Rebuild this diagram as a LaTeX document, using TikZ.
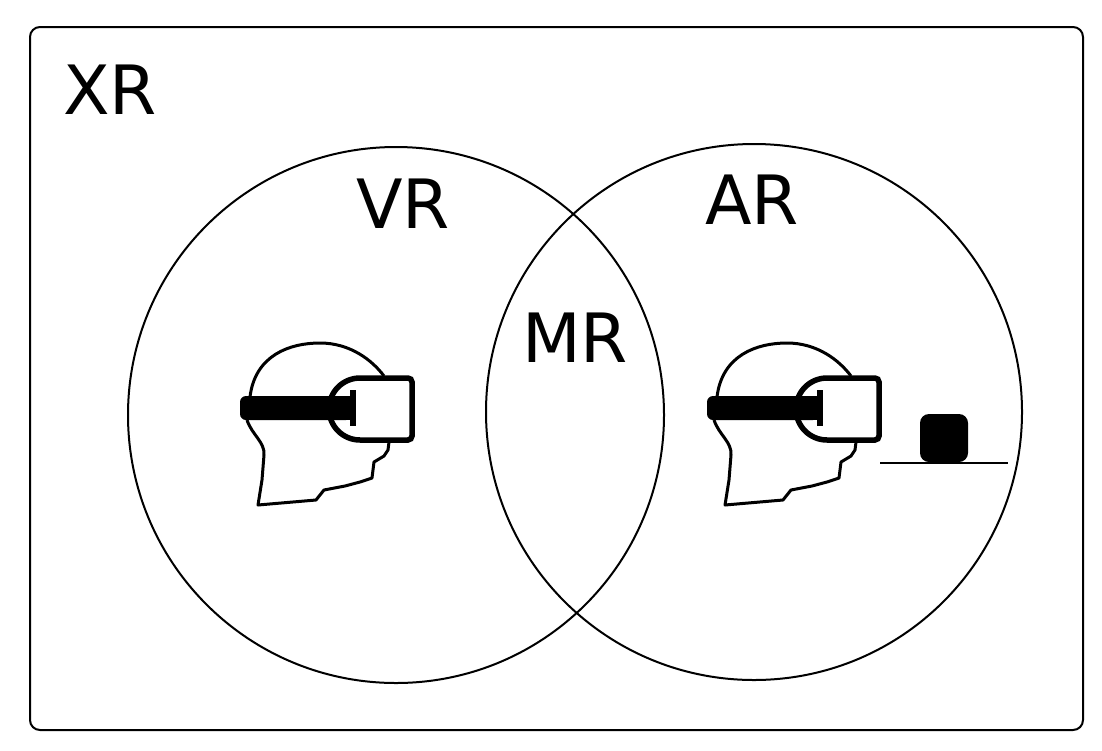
\documentclass[tikz,border=0pt]{standalone}
\usepackage{fontspec}
\setmainfont{DejaVu Sans}
\begin{document}
\begin{tikzpicture}[x=1pt,y=-1pt,
  lbl/.style={font=\fontsize{68}{68}\selectfont,inner sep=0},
  ring/.style={line width=2},
  hs/.style={line width=5.5}]
\useasboundingbox (0,0) rectangle (1102,750);
\draw[line width=2,rounded corners=10] (30,27) rectangle (1083,730);
\node[lbl] (xr) at (110,90) {XR};
\draw[ring] (396,415) circle (268);
\draw[ring] (754,412) circle (268);
\node[lbl] (vr) at (403,204) {VR};
\node[lbl] (ar) at (752,200) {AR};
\node[lbl] (mr) at (575,338) {MR};
\foreach \s in {0,467}{
\begin{scope}[shift={(\s,0)}]
 \draw[line width=3] (250,397) .. controls (255,355) and (290,343) .. (320,343) .. controls (350,343) and (372,360) .. (384,376);
 \draw[line width=3,line join=round] (247,420) .. controls (252,435) and (265,442) .. (264,455) -- (262,480) -- (258,505) -- (316,500) -- (324,490) -- (345,486) -- (360,482) -- (372,478) -- (374,462) -- (384,456) -- (388,450) -- (389,442);
 \draw[hs,rounded corners=4] (360,378) -- (412,378) -- (412,440) -- (360,440);
 \draw[hs] (360,378) arc (-90:-270:31);
 \fill[rounded corners=6] (240,396) rectangle (352,420);
 \fill (248,396) rectangle (352,420);
 \fill (350,390) rectangle (356,426);
\end{scope}}
\draw[line width=2] (880,463) -- (1008,463);
\fill[rounded corners=9] (920,414) rectangle (968,462);
\end{tikzpicture}
\end{document}
